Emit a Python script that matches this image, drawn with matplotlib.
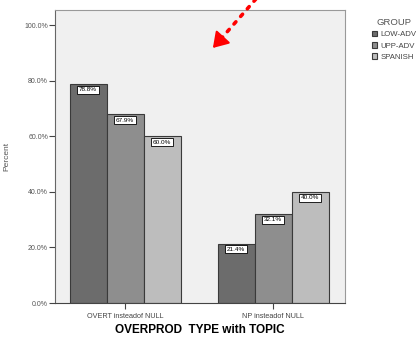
import matplotlib
matplotlib.use("Agg")
import matplotlib.pyplot as plt
from matplotlib.patches import FancyArrowPatch
from matplotlib.lines import Line2D
import numpy as np

plt.rcParams["font.family"] = ["Liberation Sans", "DejaVu Sans"]

categories = ["OVERT insteadof NULL", "NP insteadof NULL"]
groups = ["LOW-ADV", "UPP-ADV", "SPANISH"]
low_adv = [78.8, 21.4]
upp_adv = [67.9, 32.1]
spanish = [60.0, 40.0]
yticks = [0, 20, 40, 60, 80, 100]

colors = ["#6c6c6c", "#8e8e8e", "#bdbdbd"]

fig = plt.figure(figsize=(4.18, 3.37), dpi=100)
ax = fig.add_axes([55 / 418, 1 - 303 / 337, 290 / 418, 293 / 337])
ax.set_facecolor("#f0f0f0")

x = np.arange(len(categories))
width = 0.25
for i, (vals, name) in enumerate(zip([low_adv, upp_adv, spanish], groups)):
    pos = x + (i - 1) * width
    bars = ax.bar(pos, vals, width, color=colors[i], edgecolor="#3a3a3a",
                  linewidth=0.8, label=name)
    for b, v in zip(bars, vals):
        ax.text(b.get_x() + b.get_width() / 2, v - 1.2, f"{v:.1f}%",
                ha="center", va="top", fontsize=4.6,
                bbox=dict(boxstyle="square,pad=0.25", fc="white",
                          ec="black", lw=0.6))

ax.set_xlim(-0.473, 1.486)
ax.set_ylim(0, 105.4)
ax.set_yticks(yticks)
ax.set_yticklabels([f"{t:.1f}%" for t in yticks], fontsize=5, color="#555555")
ax.set_xticks(x)
ax.set_xticklabels(categories, fontsize=5.2, color="#444444")
ax.tick_params(axis="both", length=4, width=0.8, color="#444444", pad=1)
ax.tick_params(axis="x", pad=3)
for s in ax.spines.values():
    s.set_color("#999999")
    s.set_linewidth(0.8)
ax.spines["left"].set_color("#666666")
ax.spines["bottom"].set_color("#444444")
ax.set_xlabel("OVERPROD  TYPE with TOPIC", fontsize=8.5, fontweight="bold")
ax.xaxis.set_label_coords(0.5, -0.071)
ax.set_ylabel("Percent", fontsize=6, color="#555555")
ax.yaxis.set_label_coords(-0.155, 0.5)

leg = fig.legend(loc="upper left", bbox_to_anchor=(368 / 418, 1 - 14 / 337),
                 title="GROUP", fontsize=5.6, title_fontsize=6.8, frameon=False,
                 handlelength=0.7, handleheight=0.7, handletextpad=0.4,
                 labelspacing=0.5, borderpad=0)
for t in leg.get_texts():
    t.set_color("#444444")
leg.get_title().set_color("#555555")

# red dotted pointer coming in from the top edge
fig.lines.append(Line2D([262 / 418, 220 / 418], [1 + 8 / 337, 1 - 40 / 337],
                        transform=fig.transFigure, color="red",
                        linestyle=(0, (0.8, 2.0)), linewidth=2.6,
                        solid_capstyle="round", dash_capstyle="round"))
fig.patches.append(FancyArrowPatch(
    (222 / 418, 1 - 38 / 337), (211 / 418, 1 - 50 / 337),
    transform=fig.transFigure, arrowstyle="-|>,head_length=7,head_width=4.5",
    color="red", linewidth=1.5, mutation_scale=1.3))

fig.savefig("out.png", dpi=100)
